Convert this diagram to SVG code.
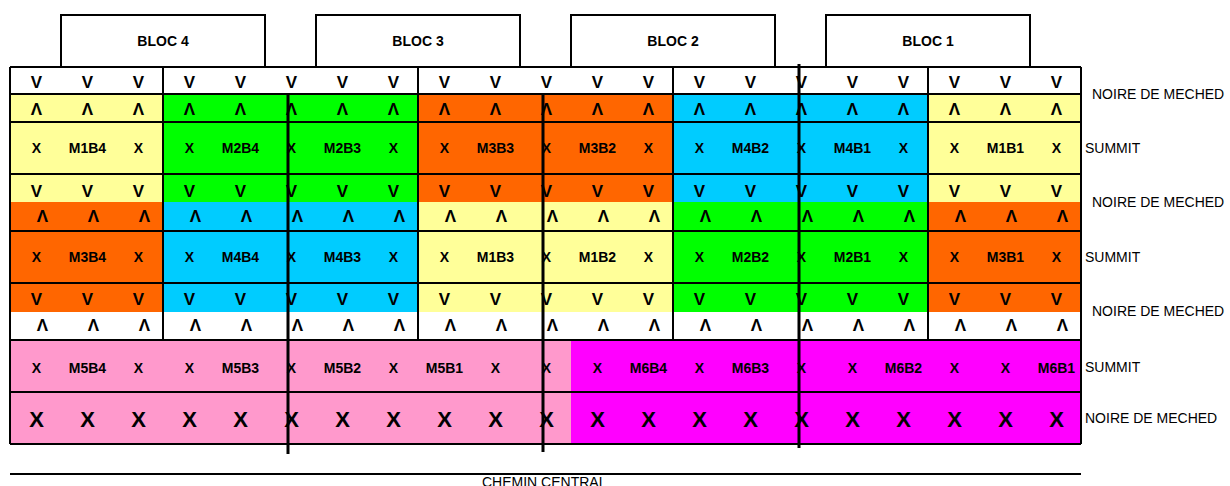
<svg xmlns="http://www.w3.org/2000/svg" width="1230" height="486" viewBox="0 0 1230 486">
<style>
.t{font-family:"Liberation Sans",Arial,sans-serif;fill:#000}
.v{font-size:17px;font-weight:bold;text-anchor:middle}
.m{font-size:14px;font-weight:bold;text-anchor:middle}
.bx{font-size:22px;font-weight:bold;text-anchor:middle}
.bloc{font-size:14px;font-weight:bold;text-anchor:middle}
.lbl{font-size:14px}
.ln{stroke:#000;stroke-width:2;fill:none}
.thick{stroke:#000;stroke-width:3}
.box{fill:#fff;stroke:#000;stroke-width:2}
.ye{fill:#FFFF99}.gr{fill:#00FF00}.or{fill:#FF6600}.cy{fill:#00CCFF}.pk{fill:#FF99CC}.mg{fill:#FF00FF}
</style>
<rect width="1230" height="486" fill="#fff"/>
<g id="blocs">
<g id="bloc4"><rect class="box" x="61" y="15" width="204" height="52"/><text class="t bloc" x="163" y="46">BLOC 4</text></g>
<g id="bloc3"><rect class="box" x="316" y="15" width="204" height="52"/><text class="t bloc" x="418" y="46">BLOC 3</text></g>
<g id="bloc2"><rect class="box" x="571" y="15" width="204" height="52"/><text class="t bloc" x="673" y="46">BLOC 2</text></g>
<g id="bloc1"><rect class="box" x="826" y="15" width="204" height="52"/><text class="t bloc" x="928" y="46">BLOC 1</text></g>
</g>
<g id="fills">
<rect class="ye" x="10" y="94" width="153" height="108"/>
<rect class="gr" x="163" y="94" width="255" height="108"/>
<rect class="or" x="418" y="94" width="255" height="108"/>
<rect class="cy" x="673" y="94" width="255" height="108"/>
<rect class="ye" x="928" y="94" width="153" height="108"/>
<rect class="or" x="10" y="202" width="153" height="110"/>
<rect class="cy" x="163" y="202" width="255" height="110"/>
<rect class="ye" x="418" y="202" width="255" height="110"/>
<rect class="gr" x="673" y="202" width="255" height="110"/>
<rect class="or" x="928" y="202" width="153" height="110"/>
<rect class="pk" x="10" y="340" width="561" height="104"/>
<rect class="mg" x="571" y="340" width="510" height="104"/>
</g>
<g id="grid">
<path class="ln" d="M10 67H1081M10 94H1081M10 122H1081M10 174H1081M10 231H1081M10 283H1081M10 340H1081M10 392H1081M10 444H1081"/>
<path class="ln" d="M10 67V444M1081 67V444M163 67V340M418 67V340M673 67V340M928 67V340"/>
<path class="ln" d="M10 474H1081"/>
</g>
<g id="row1-v"><text class="t v" x="36.5 87.5 138.5 189.5 240.5 291.5 342.5 393.5 444.5 495.5 546.5 597.5 648.5 699.5 750.5 801.5 852.5 903.5 954.5 1005.5 1056.5" y="88">VVVVVVVVVVVVVVVVVVVVV</text></g>
<g id="row2-a"><text class="t v" x="36.5 87.5 138.5 189.5 240.5 291.5 342.5 393.5 444.5 495.5 546.5 597.5 648.5 699.5 750.5 801.5 852.5 903.5 954.5 1005.5 1056.5" y="115">ΛΛΛΛΛΛΛΛΛΛΛΛΛΛΛΛΛΛΛΛΛ</text></g>
<g id="row3-summit">
<text class="t m" x="36.5" y="153">X</text>
<text class="t m" x="87.5" y="153">M1B4</text>
<text class="t m" x="138.5" y="153">X</text>
<text class="t m" x="189.5" y="153">X</text>
<text class="t m" x="240.5" y="153">M2B4</text>
<text class="t m" x="291.5" y="153">X</text>
<text class="t m" x="342.5" y="153">M2B3</text>
<text class="t m" x="393.5" y="153">X</text>
<text class="t m" x="444.5" y="153">X</text>
<text class="t m" x="495.5" y="153">M3B3</text>
<text class="t m" x="546.5" y="153">X</text>
<text class="t m" x="597.5" y="153">M3B2</text>
<text class="t m" x="648.5" y="153">X</text>
<text class="t m" x="699.5" y="153">X</text>
<text class="t m" x="750.5" y="153">M4B2</text>
<text class="t m" x="801.5" y="153">X</text>
<text class="t m" x="852.5" y="153">M4B1</text>
<text class="t m" x="903.5" y="153">X</text>
<text class="t m" x="954.5" y="153">X</text>
<text class="t m" x="1005.5" y="153">M1B1</text>
<text class="t m" x="1056.5" y="153">X</text>
</g>
<g id="row4-v"><text class="t v" x="36.5 87.5 138.5 189.5 240.5 291.5 342.5 393.5 444.5 495.5 546.5 597.5 648.5 699.5 750.5 801.5 852.5 903.5 954.5 1005.5 1056.5" y="197">VVVVVVVVVVVVVVVVVVVVV</text></g>
<g id="row5-a"><text class="t v" x="42.5 93.5 144.5 195.5 246.5 297.5 348.5 399.5 450.5 501.5 552.5 603.5 654.5 705.5 756.5 807.5 858.5 909.5 960.5 1011.5 1062.5" y="222">ΛΛΛΛΛΛΛΛΛΛΛΛΛΛΛΛΛΛΛΛΛ</text></g>
<g id="row6-summit">
<text class="t m" x="36.5" y="262">X</text>
<text class="t m" x="87.5" y="262">M3B4</text>
<text class="t m" x="138.5" y="262">X</text>
<text class="t m" x="189.5" y="262">X</text>
<text class="t m" x="240.5" y="262">M4B4</text>
<text class="t m" x="291.5" y="262">X</text>
<text class="t m" x="342.5" y="262">M4B3</text>
<text class="t m" x="393.5" y="262">X</text>
<text class="t m" x="444.5" y="262">X</text>
<text class="t m" x="495.5" y="262">M1B3</text>
<text class="t m" x="546.5" y="262">X</text>
<text class="t m" x="597.5" y="262">M1B2</text>
<text class="t m" x="648.5" y="262">X</text>
<text class="t m" x="699.5" y="262">X</text>
<text class="t m" x="750.5" y="262">M2B2</text>
<text class="t m" x="801.5" y="262">X</text>
<text class="t m" x="852.5" y="262">M2B1</text>
<text class="t m" x="903.5" y="262">X</text>
<text class="t m" x="954.5" y="262">X</text>
<text class="t m" x="1005.5" y="262">M3B1</text>
<text class="t m" x="1056.5" y="262">X</text>
</g>
<g id="row7-v"><text class="t v" x="36.5 87.5 138.5 189.5 240.5 291.5 342.5 393.5 444.5 495.5 546.5 597.5 648.5 699.5 750.5 801.5 852.5 903.5 954.5 1005.5 1056.5" y="305">VVVVVVVVVVVVVVVVVVVVV</text></g>
<g id="row8-a"><text class="t v" x="42.5 93.5 144.5 195.5 246.5 297.5 348.5 399.5 450.5 501.5 552.5 603.5 654.5 705.5 756.5 807.5 858.5 909.5 960.5 1011.5 1062.5" y="331">ΛΛΛΛΛΛΛΛΛΛΛΛΛΛΛΛΛΛΛΛΛ</text></g>
<g id="row9-summit">
<text class="t m" x="36.5" y="373">X</text>
<text class="t m" x="87.5" y="373">M5B4</text>
<text class="t m" x="138.5" y="373">X</text>
<text class="t m" x="189.5" y="373">X</text>
<text class="t m" x="240.5" y="373">M5B3</text>
<text class="t m" x="291.5" y="373">X</text>
<text class="t m" x="342.5" y="373">M5B2</text>
<text class="t m" x="393.5" y="373">X</text>
<text class="t m" x="444.5" y="373">M5B1</text>
<text class="t m" x="495.5" y="373">X</text>
<text class="t m" x="546.5" y="373">X</text>
<text class="t m" x="597.5" y="373">X</text>
<text class="t m" x="648.5" y="373">M6B4</text>
<text class="t m" x="699.5" y="373">X</text>
<text class="t m" x="750.5" y="373">M6B3</text>
<text class="t m" x="801.5" y="373">X</text>
<text class="t m" x="852.5" y="373">X</text>
<text class="t m" x="903.5" y="373">M6B2</text>
<text class="t m" x="954.5" y="373">X</text>
<text class="t m" x="1005.5" y="373">X</text>
<text class="t m" x="1056.5" y="373">M6B1</text>
</g>
<g id="row10-x"><text class="t bx" x="36.5 87.5 138.5 189.5 240.5 291.5 342.5 393.5 444.5 495.5 546.5 597.5 648.5 699.5 750.5 801.5 852.5 903.5 954.5 1005.5 1056.5" y="427">XXXXXXXXXXXXXXXXXXXXX</text></g>
<g id="connectors">
<line class="thick" x1="288" y1="95" x2="288" y2="454"/>
<line class="thick" x1="543" y1="95" x2="543" y2="452"/>
<line class="thick" x1="799" y1="64" x2="799" y2="448"/>
</g>
<g id="labels">
<text class="t lbl" x="1092" y="99">NOIRE DE MECHED</text>
<text class="t lbl" x="1085" y="153">SUMMIT</text>
<text class="t lbl" x="1092" y="207">NOIRE DE MECHED</text>
<text class="t lbl" x="1085" y="262">SUMMIT</text>
<text class="t lbl" x="1092" y="316">NOIRE DE MECHED</text>
<text class="t lbl" x="1085" y="371.5">SUMMIT</text>
<text class="t lbl" x="1085" y="422.5">NOIRE DE MECHED</text>
<text class="t lbl" x="482" y="487">CHEMIN CENTRAL</text>
</g>
</svg>
